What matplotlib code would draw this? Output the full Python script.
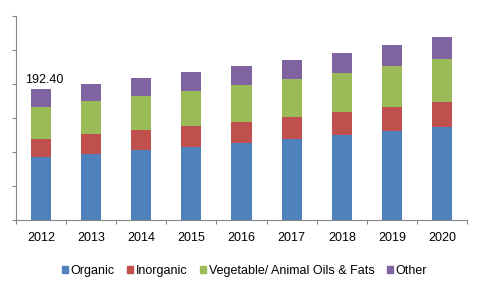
import numpy as np
import matplotlib.pyplot as plt
from matplotlib.patches import Patch

years = ['2012', '2013', '2014', '2015', '2016', '2017', '2018', '2019', '2020']
organic = [92.2, 97.7, 103.6, 108.0, 113.5, 118.4, 124.3, 130.2, 136.2]
inorganic = [26.2, 28.1, 28.1, 29.6, 30.1, 32.6, 34.1, 35.6, 37.0]
veg_oils = [47.4, 48.8, 50.3, 51.8, 54.7, 56.2, 57.6, 60.6, 63.6]
other = [26.6, 25.2, 26.7, 28.2, 28.1, 28.1, 29.7, 31.1, 32.6]
series_names = ['Organic', 'Inorganic', 'Vegetable/ Animal Oils & Fats', 'Other']
colors = ['#4F81BD', '#C0504D', '#9BBB59', '#8064A2']
first_label = '192.40'

plt.rcParams['font.family'] = ['Liberation Sans', 'DejaVu Sans']

fig = plt.figure(figsize=(4.84, 2.92), dpi=100)
ax = fig.add_axes([0.033, 0.2466, 0.932, 0.6986])

x = np.arange(len(years))
bottom = np.zeros(len(years))
for vals, c in zip([organic, inorganic, veg_oils, other], colors):
    ax.bar(x, vals, 0.4, bottom=bottom, color=c, linewidth=0)
    bottom += np.array(vals)

ax.text(x[0] + 0.07, bottom[0] + 5, first_label, ha='center', va='bottom', fontsize=9)

ax.set_xlim(-0.5, len(years) - 0.5)
ax.set_ylim(0, 300)
ax.set_yticks(np.arange(0, 301, 50))
ax.set_yticklabels([])
ax.set_xticks(x)
ax.set_xticklabels(years, fontsize=9)
ax.set_xticks(np.arange(-0.5, len(years), 1), minor=True)
ax.tick_params(axis='x', which='major', length=0, pad=9)
ax.tick_params(axis='x', which='minor', length=3, color='#868686', width=0.8)
ax.tick_params(axis='y', length=3, color='#868686', width=0.8)
for s in ['top', 'right']:
    ax.spines[s].set_visible(False)
for s in ['left', 'bottom']:
    ax.spines[s].set_color('#868686')
    ax.spines[s].set_linewidth(0.8)

handles = [Patch(color=c, label=n) for c, n in zip(colors, series_names)]
fig.legend(handles=handles, loc='center', bbox_to_anchor=(0.505, 0.072), ncol=4,
           frameon=False, fontsize=9, handlelength=0.5, handleheight=0.5,
           handletextpad=0.2, columnspacing=1.0)

fig.savefig('out.png', dpi=100)
